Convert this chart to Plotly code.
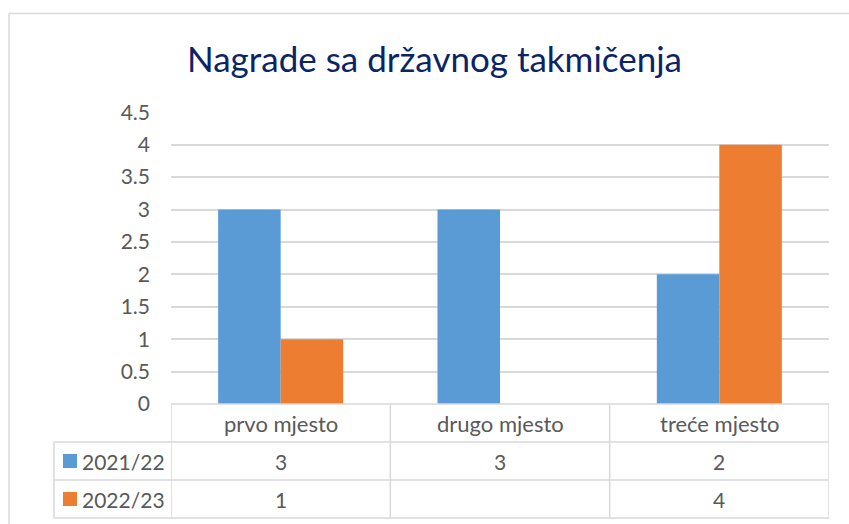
import plotly.graph_objects as go

categories = ["prvo mjesto", "drugo mjesto", "treće mjesto"]
series_names = ["2021/22", "2022/23"]
values_2021_22 = [3, 3, 2]
values_2022_23 = [1, None, 4]
series_values = [values_2021_22, values_2022_23]
y_ticks = [0, 0.5, 1, 1.5, 2, 2.5, 3, 3.5, 4, 4.5]
title_text = "Nagrade sa državnog takmičenja"

colors = ["#5B9BD5", "#ED7D31"]
W, H = 849, 524
FONT = "Lato"
TXT = "#595959"
GRID = "#D9D9D9"


def px(x):
    return x / W


def py(y):
    return 1 - y / H


fig = go.Figure()
for name, vals, col in zip(series_names, series_values, colors):
    fig.add_trace(go.Bar(x=categories, y=vals, name=name, marker=dict(color=col, line=dict(width=0)),
                         showlegend=False))

shapes = []
# outer chart border
shapes.append(dict(type="line", xref="paper", yref="paper", x0=px(9), x1=px(W + 5), y0=py(13.5), y1=py(13.5),
                   line=dict(color=GRID, width=1.5)))
shapes.append(dict(type="line", xref="paper", yref="paper", x0=px(9), x1=px(9), y0=py(13.5), y1=py(H + 5),
                   line=dict(color=GRID, width=1.5)))

row_top, row1, row2, row3 = 404, 442, 480, 518
left_col = 54
n = len(categories)
shapes.append(dict(type="line", xref="x", yref="paper", x0=-0.5, x1=n - 0.5, y0=py(row_top), y1=py(row_top),
                   line=dict(color=GRID, width=1.5)))
for yy in (row1, row2, row3):
    shapes.append(dict(type="line", xref="paper", yref="paper", x0=px(left_col), x1=px(829), y0=py(yy), y1=py(yy),
                       line=dict(color=GRID, width=1.5)))
for i in range(n + 1):
    shapes.append(dict(type="line", xref="x", yref="paper", x0=i - 0.5, x1=i - 0.5, y0=py(row_top), y1=py(row3),
                       line=dict(color=GRID, width=1.5)))
shapes.append(dict(type="line", xref="paper", yref="paper", x0=px(left_col), x1=px(left_col), y0=py(row1), y1=py(row3),
                   line=dict(color=GRID, width=1.5)))

annotations = []
for c in categories:
    annotations.append(dict(x=c, xref="x", y=py((row_top + row1) / 2), yref="paper", text=c, showarrow=False,
                            font=dict(family=FONT, size=22, color=TXT), xanchor="center", yanchor="middle"))
row_centers = [(row1 + row2) / 2, (row2 + row3) / 2]
for name, vals, col, rc in zip(series_names, series_values, colors, row_centers):
    shapes.append(dict(type="rect", xref="paper", yref="paper", x0=px(63), x1=px(77), y0=py(rc - 7), y1=py(rc + 7),
                       fillcolor=col, line=dict(width=0)))
    annotations.append(dict(x=px(80), xref="paper", y=py(rc), yref="paper", text=name, showarrow=False,
                            font=dict(family=FONT, size=21, color=TXT), xanchor="left", yanchor="middle"))
    for c, v in zip(categories, vals):
        if v is None:
            continue
        annotations.append(dict(x=c, xref="x", y=py(rc), yref="paper", text=str(v), showarrow=False,
                                font=dict(family=FONT, size=21, color=TXT), xanchor="center", yanchor="middle"))

annotations.append(dict(x=px(434), xref="paper", y=py(58), yref="paper", text=title_text, showarrow=False,
                        font=dict(family=FONT, size=35, color="#0B2465"), xanchor="center", yanchor="middle"))

fig.update_layout(
    width=W, height=H,
    margin=dict(l=0, r=0, t=0, b=0, pad=0, autoexpand=False),
    paper_bgcolor="white", plot_bgcolor="white",
    barmode="group", bargap=0.43, bargroupgap=0,
    xaxis=dict(domain=[px(171), px(829)], range=[-0.5, n - 0.5], showticklabels=False, showgrid=False,
               zeroline=False, showline=False, fixedrange=True, automargin=False),
    yaxis=dict(domain=[py(404), py(112.3)], range=[0, 4.5], tickvals=y_ticks,
               ticktext=[f"{t:g}" for t in y_ticks], showgrid=True, gridcolor=GRID, gridwidth=1.5,
               zeroline=False, showline=False, ticklabelstandoff=20, automargin=False,
               tickfont=dict(family=FONT, size=21, color=TXT), fixedrange=True),
    shapes=shapes,
    annotations=annotations,
    hovermode=False,
)

fig.write_html("out.html", config={"displayModeBar": False},
               post_script="document.body.style.margin='0';document.body.style.overflow='hidden';")
